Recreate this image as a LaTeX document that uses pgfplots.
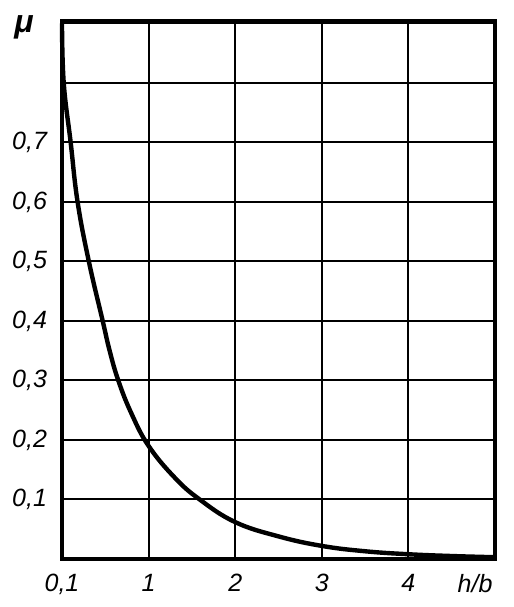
\documentclass[border=0pt]{standalone}
\usepackage{fontspec}
\setmainfont{Liberation Sans}
\usepackage{pgfplots}
\pgfplotsset{compat=1.18}
\begin{document}
\begin{tikzpicture}
\begin{axis}[
  name=main,
  scale only axis,
  width=216.5pt, height=269pt,
  xmin=0, xmax=5, ymin=0, ymax=0.904,
  xtick={0,1,2,3,4,5},
  xticklabels={{0,1},1,2,3,4,{}},
  ytick={0,0.1,0.2,0.3,0.4,0.5,0.6,0.7,0.8,0.9},
  yticklabels={{},{0,1},{0,2},{0,3},{0,4},{0,5},{0,6},{0,7},{},{}},
  extra x ticks={4.77},
  extra x tick labels={h/b},
  extra x tick style={grid=none, major tick length=0pt},
  major tick length=0pt,
  grid=major,
  major grid style={black, line width=1pt},
  axis line style={black, line width=1.6pt},
  ticklabel style={font=\fontsize{12.5}{14}\selectfont\itshape},
  xticklabel style={yshift=-4pt},
  yticklabel style={xshift=-4pt},
  clip=false,
]
\addplot[black, line width=2.2pt, smooth, tension=0.7] coordinates {
(0,0.9) (0.02,0.8) (0.1,0.7) (0.18,0.6) (0.31,0.5) (0.47,0.4) (0.55,0.35) (0.65,0.3) (0.8,0.245) (1,0.19) (1.3,0.137) (1.59,0.1) (2,0.062) (2.5,0.038) (3,0.022) (3.5,0.013) (4,0.008) (4.5,0.005) (5,0.003)
};
\node[font=\fontsize{16}{18}\selectfont\itshape\bfseries] at (rel axis cs:0,1) [xshift=-19pt, yshift=-3pt] {μ};
\end{axis}
\pgfresetboundingbox
\path (main.south west) ++(-31pt,-24pt) coordinate (bl);
\path (main.north east) ++(9pt,10.5pt) coordinate (tr);
\path (bl) rectangle (tr);
\end{tikzpicture}
\end{document}
